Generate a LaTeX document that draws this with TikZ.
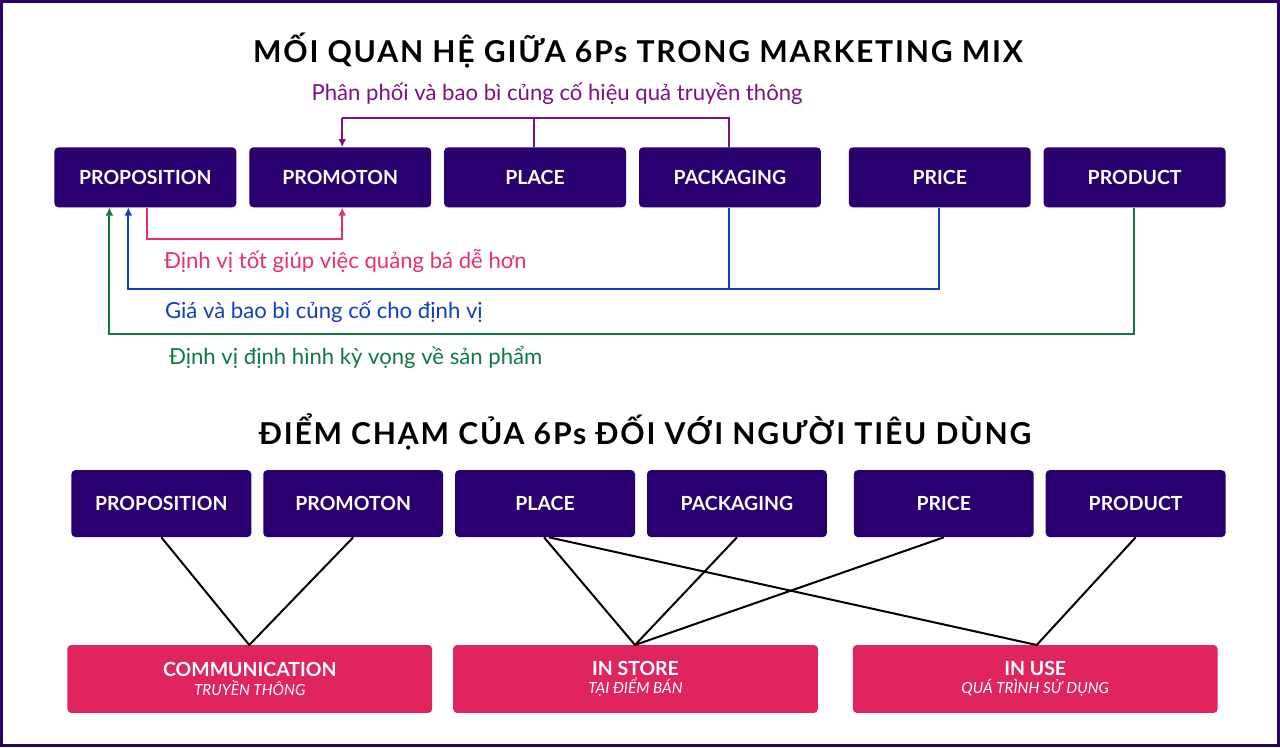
\documentclass[tikz,border=0pt]{standalone}
\usepackage{fontspec}
\usetikzlibrary{arrows.meta}
\setmainfont{Lato}
\begin{document}
\begin{tikzpicture}[x=0.75pt,y=-0.75pt,
 box/.style={fill=boxc,rounded corners=3pt,text=white,font=\bfseries\fontsize{14.6}{16}\selectfont},
 pbox/.style={fill=pinkc,rounded corners=3pt,text=white,align=center},
 lab/.style={font=\fontsize{16.6}{18}\selectfont,anchor=west},
 ln/.style={line width=1.5pt},
 ar/.style={-{Latex[length=6pt,width=6pt]}},
 tt/.style={font=\bfseries\fontsize{22.6}{26}\selectfont,text=black}]
\definecolor{boxc}{HTML}{2A0070}
\definecolor{pinkc}{HTML}{E0245E}
\definecolor{purp}{HTML}{7A1280}
\definecolor{redc}{HTML}{E8306A}
\definecolor{bluec}{HTML}{1040C0}
\definecolor{greenc}{HTML}{107840}
\path[use as bounding box,fill=white,draw=boxc,line width=2.2pt] (1,1) rectangle (1279,746);
\node[tt] (t1) at (638,50) {\addfontfeature{LetterSpace=6}MỐI QUAN HỆ GIỮA 6Ps TRONG MARKETING MIX};
\foreach \n/\a/\t in {a/54/PROPOSITION,b/249/PROMOTON,c/444/PLACE,d/639/PACKAGING,e/849/PRICE,f/1044/PRODUCT}{
 \node[box,minimum width=182*0.75pt,minimum height=60*0.75pt] (\n) at (\a+91,177) {\t};}
\coordinate (p1) at (729,118); \coordinate (p2) at (342,118); \coordinate (p3) at (534,118);
\draw[ln,purp] (d.north -| p1) -- (p1) -- (p2);
\draw[ln,purp,ar] (p2) -- (b.north -| p2);
\draw[ln,purp] (c.north -| p3) -- (p3);
\node[lab,text=purp,anchor=center] (l1) at (557,93) {Phân phối và bao bì củng cố hiệu quả truyền thông};
\coordinate (r1) at (147,239); \coordinate (r2) at (342,239);
\draw[ln,redc,ar] (a.south -| r1) -- (r1) -- (r2) -- (b.south -| r2);
\node[lab,text=redc] (l2) at (159,261) {Định vị tốt giúp việc quảng bá dễ hơn};
\coordinate (b1) at (939,289); \coordinate (b2) at (128,289); \coordinate (b3) at (729,289);
\draw[ln,bluec,ar] (e.south -| b1) -- (b1) -- (b2) -- (a.south -| b2);
\draw[ln,bluec] (d.south -| b3) -- (b3);
\node[lab,text=bluec] (l3) at (160,311) {Giá và bao bì củng cố cho định vị};
\coordinate (g1) at (1134,334); \coordinate (g2) at (109,334);
\draw[ln,greenc,ar] (f.south -| g1) -- (g1) -- (g2) -- (a.south -| g2);
\node[lab,text=greenc] (l4) at (164,357) {Định vị định hình kỳ vọng về sản phẩm};
\node[tt] (t2) at (645,432) {\addfontfeature{LetterSpace=6}ĐIỂM CHẠM CỦA 6Ps ĐỐI VỚI NGƯỜI TIÊU DÙNG};
\foreach \n/\a/\t in {A/71/PROPOSITION,B/263/PROMOTON,C/455/PLACE,D/647/PACKAGING,E/854/PRICE,F/1046/PRODUCT}{
 \node[box,minimum width=180*0.75pt,minimum height=67*0.75pt] (\n) at (\a+90,503.5) {\t};}
\foreach \n/\a/\t/\s in {X/67/COMMUNICATION/TRUYỀN THÔNG,Y/453/IN STORE/TẠI ĐIỂM BÁN,Z/853/IN USE/QUÁ TRÌNH SỬ DỤNG}{
 \node[pbox,minimum width=365*0.75pt,minimum height=68*0.75pt] (\n) at (\a+182.5,679) {{\bfseries\fontsize{14.6}{17}\selectfont \t}\\[2pt]{\itshape\fontsize{11.5}{13}\selectfont \s}};}
\coordinate (xa) at (249,645); \coordinate (ya) at (635,645); \coordinate (za) at (1037,645);
\draw[ln] (A.south) -- (xa) -- (B.south);
\draw[ln] ([xshift=-0.75pt]C.south) -- (ya) -- (D.south);
\draw[ln] (E.south) -- (ya);
\draw[ln] ([xshift=3pt]C.south) -- (za) -- (F.south);
\end{tikzpicture}
\end{document}
